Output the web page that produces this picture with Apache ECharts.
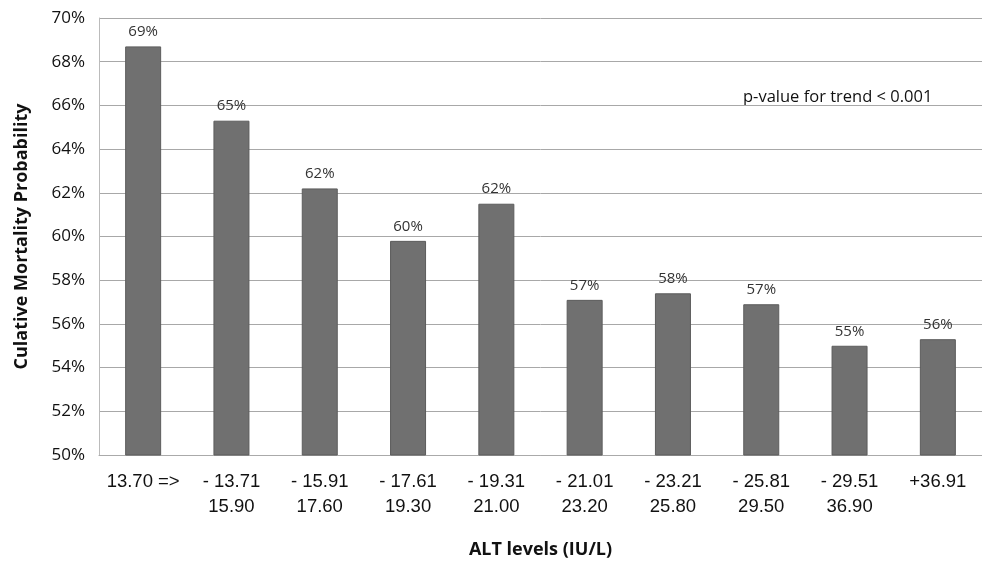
<!DOCTYPE html>
<html>
<head>
<meta charset="utf-8">
<script src="https://cdn.jsdelivr.net/npm/echarts@6/dist/echarts.min.js"></script>
<style>html,body{margin:0;padding:0;background:#fff;}#c{width:982px;height:569px;}</style>
</head>
<body>
<div id="c"></div>
<script>
var categories = ['13.70 =>', '- 13.71\n15.90', '- 15.91\n17.60', '- 17.61\n19.30', '- 19.31\n21.00', '- 21.01\n23.20', '- 23.21\n25.80', '- 25.81\n29.50', '- 29.51\n36.90', '+36.91'];
var mortality = [68.7, 65.3, 62.2, 59.8, 61.5, 57.1, 57.4, 56.9, 55.0, 55.3];
var barLabels = ['69%', '65%', '62%', '60%', '62%', '57%', '58%', '57%', '55%', '56%'];
var yTicks = { min: 50, max: 70, interval: 2 };

var chart = echarts.init(document.getElementById('c'));
chart.setOption({
  backgroundColor: '#fff',
  animation: false,
  grid: { left: 99, right: -7, top: 18, bottom: 114 },
  xAxis: {
    type: 'category',
    data: categories,
    name: 'ALT levels (IU/L)',
    nameLocation: 'middle',
    nameGap: 86,
    nameTextStyle: { fontFamily: 'Open Sans', fontWeight: 'bold', fontSize: 18, color: '#111' },
    axisLine: { lineStyle: { color: '#aaa', width: 1 } },
    axisTick: { show: false },
    axisLabel: { interval: 0, margin: 14, fontFamily: 'Liberation Sans', fontSize: 18.5, color: '#111', lineHeight: 25 }
  },
  yAxis: {
    type: 'value',
    min: yTicks.min, max: yTicks.max, interval: yTicks.interval,
    name: 'Culative Mortality Probability',
    nameLocation: 'middle',
    nameRotate: 90,
    nameGap: 68,
    nameTextStyle: { fontFamily: 'Open Sans', fontWeight: 'bold', fontSize: 18, color: '#111' },
    axisLine: { show: true, lineStyle: { color: '#bbb' } },
    axisTick: { show: false },
    splitLine: { lineStyle: { color: '#a8a8a8', width: 1 } },
    axisLabel: { formatter: '{value}%', margin: 14, fontFamily: 'Open Sans', fontSize: 17, color: '#111' }
  },
  series: [{
    type: 'bar',
    data: mortality,
    barWidth: 36,
    itemStyle: { color: '#707070', borderColor: '#5c5c5c', borderWidth: 1 },
    label: {
      show: true, position: 'top', distance: 7,
      fontFamily: 'Open Sans', fontSize: 15, color: '#333',
      formatter: function (p) { return barLabels[p.dataIndex]; }
    }
  }],
  graphic: [{
    type: 'text', left: 743, top: 89,
    style: { text: 'p-value for trend < 0.001', font: '16.5px "Open Sans"', fill: '#111' }
  }]
});
</script>
</body>
</html>
